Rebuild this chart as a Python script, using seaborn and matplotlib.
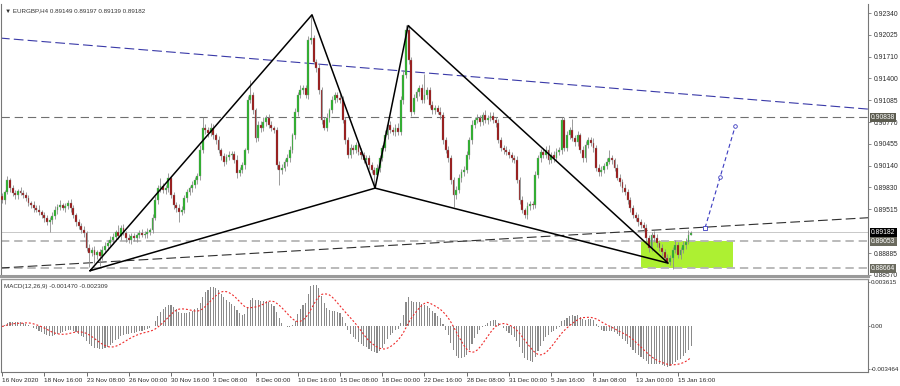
import numpy as np
import pandas as pd
import matplotlib
matplotlib.use("Agg")
import matplotlib.pyplot as plt
import seaborn as sns

# ---------------- data (prices in 1e-4 units) ----------------
first_open = 8970
closes = [
    8965, 8976, 8994, 8982, 8975, 8972, 8978, 8975, 8972, 8968,
    8961, 8958, 8953, 8951, 8948, 8943, 8939, 8933, 8936, 8942,
    8951, 8955, 8958, 8953, 8956, 8961, 8953, 8943, 8933, 8928,
    8922, 8917, 8896, 8889, 8893, 8886, 8890, 8884, 8893, 8899,
    8903, 8907, 8912, 8919, 8913, 8925, 8917, 8910, 8907, 8913,
    8910, 8915, 8917, 8915, 8916, 8919, 8922, 8939, 8965, 8982,
    8985, 8979, 8982, 8997, 8972, 8958, 8953, 8948, 8951, 8968,
    8976, 8982, 8986, 8994, 8999, 9037, 9069, 9066, 9061, 9069,
    9058, 9051, 9037, 9028, 9020, 9027, 9030, 9031, 9022, 9004,
    9008, 9015, 9037, 9109, 9116, 9094, 9054, 9073, 9069, 9077,
    9083, 9073, 9069, 9066, 9015, 9008, 9011, 9020, 9025, 9037,
    9058, 9092, 9116, 9123, 9126, 9116, 9195, 9198, 9164, 9155,
    9123, 9080, 9069, 9083, 9094, 9109, 9116, 9112, 9109, 9080,
    9051, 9030, 9040, 9037, 9044, 9034, 9030, 9022, 9025, 9015,
    9008, 9001, 9011, 9025, 9040, 9058, 9073, 9066, 9063, 9069,
    9063, 9109, 9145, 9210, 9166, 9092, 9112, 9120, 9126, 9109,
    9116, 9123, 9102, 9094, 9097, 9092, 9087, 9051, 9037, 9025,
    8994, 8972, 8979, 8997, 9005, 9008, 9030, 9051, 9073, 9080,
    9083, 9077, 9087, 9080, 9083, 9086, 9080, 9076, 9051, 9040,
    9037, 9034, 9030, 9025, 9022, 8994, 8965, 8951, 8943, 8956,
    8959, 8958, 9001, 9025, 9034, 9030, 9037, 9022, 9030, 9025,
    9034, 9037, 9080, 9040, 9058, 9066, 9054, 9048, 9058, 9037,
    9025, 9044, 9051, 9047, 9040, 9011, 9005, 9008, 9014, 9020,
    9025, 9022, 9011, 8997, 8991, 8982, 8976, 8965, 8953, 8943,
    8939, 8933, 8929, 8925, 8910, 8896, 8915, 8910, 8903, 8896,
    8890, 8881, 8876, 8881, 8893, 8900, 8886, 8893, 8900, 8905,
    8915, 8918,
]
upper_wick = [
    5, 4, 6, 3, 4, 5, 3, 6, 4, 5,
    4, 3, 5, 4, 6, 3, 4, 5, 4, 6,
    5, 4, 7, 3, 5, 4, 6, 4, 3, 5,
    4, 5, 3, 6, 4, 5, 3, 4, 6, 5,
    4, 6, 5, 3, 10, 4, 5, 3, 6, 4,
    5, 3, 4, 6, 4, 5, 3, 6, 5, 4,
    12, 5, 4, 7, 3, 5, 4, 6, 5, 4,
    5, 3, 6, 4, 5, 7, 16, 5, 4, 6,
    5, 4, 6, 3, 5, 4, 6, 5, 4, 7,
    4, 5, 3, 6, 22, 5, 4, 6, 5, 7,
    4, 6, 5, 3, 4, 6, 5, 4, 6, 5,
    4, 6, 5, 7, 4, 5, 6, 33, 5, 4,
    6, 4, 5, 7, 4, 6, 5, 4, 6, 5,
    4, 5, 6, 4, 5, 3, 6, 4, 5, 4,
    5, 4, 6, 5, 4, 7, 5, 6, 4, 5,
    6, 5, 7, 7, 7, 5, 6, 4, 5, 6,
    30, 5, 4, 6, 5, 4, 7, 5, 4, 6,
    5, 4, 6, 5, 4, 6, 5, 4, 7, 5,
    6, 4, 5, 7, 4, 6, 5, 4, 6, 5,
    4, 6, 5, 4, 5, 6, 4, 5, 3, 6,
    5, 4, 6, 5, 4, 6, 5, 7, 4, 5,
    6, 4, 5, 5, 6, 4, 15, 5, 6, 4,
    5, 6, 4, 5, 7, 4, 5, 6, 4, 5,
    12, 5, 4, 6, 5, 4, 6, 5, 4, 5,
    4, 6, 5, 4, 6, 5, 4, 5, 6, 4,
    5, 4, 6, 5, 4, 7, 5, 4, 6, 5,
    6, 2,
]
lower_wick = [
    4, 6, 3, 5, 4, 6, 5, 3, 4, 5,
    5, 4, 6, 3, 5, 4, 6, 4, 14, 5,
    4, 6, 5, 3, 6, 4, 5, 4, 6, 5,
    5, 6, 4, 20, 5, 12, 6, 14, 5, 4,
    6, 4, 5, 6, 4, 5, 3, 6, 4, 5,
    4, 6, 5, 4, 5, 6, 4, 5, 3, 6,
    5, 4, 6, 5, 4, 6, 5, 15, 4, 5,
    6, 4, 5, 4, 6, 5, 4, 6, 5, 4,
    5, 6, 4, 5, 6, 4, 5, 6, 4, 7,
    5, 4, 6, 5, 4, 6, 5, 4, 6, 5,
    6, 4, 5, 4, 6, 22, 5, 4, 6, 5,
    4, 5, 6, 4, 5, 4, 6, 5, 4, 6,
    5, 6, 4, 5, 6, 4, 5, 6, 4, 5,
    6, 4, 5, 6, 4, 5, 6, 4, 5, 6,
    4, 15, 5, 6, 4, 5, 6, 4, 5, 6,
    5, 4, 6, 4, 5, 6, 4, 5, 6, 4,
    5, 6, 4, 5, 6, 4, 5, 6, 4, 5,
    6, 17, 5, 4, 6, 5, 4, 6, 5, 4,
    5, 6, 4, 5, 6, 4, 5, 6, 4, 5,
    6, 4, 5, 6, 4, 5, 6, 5, 4, 6,
    5, 6, 4, 5, 6, 4, 5, 6, 4, 5,
    4, 5, 6, 4, 5, 6, 4, 5, 6, 4,
    5, 6, 4, 5, 6, 4, 5, 6, 4, 5,
    4, 6, 5, 4, 6, 5, 4, 6, 5, 4,
    5, 6, 4, 5, 8, 6, 4, 5, 6, 4,
    5, 6, 3, 5, 15, 5, 5, 6, 4, 5,
    4, 1,
]

tick_bars = [0, 16, 32, 48, 64, 80, 96, 112, 128, 144, 160, 176, 192, 208, 224, 240, 256]
tick_labels = ["16 Nov 2020", "18 Nov 16:00", "23 Nov 08:00", "26 Nov 00:00", "30 Nov 16:00",
               "3 Dec 08:00", "8 Dec 00:00", "10 Dec 16:00", "15 Dec 08:00", "18 Dec 00:00",
               "22 Dec 16:00", "28 Dec 08:00", "31 Dec 00:00", "5 Jan 16:00", "8 Jan 08:00",
               "13 Jan 00:00", "15 Jan 16:00"]

price_ticks = [0.92340, 0.92025, 0.91710, 0.91400, 0.91085, 0.90770, 0.90455,
               0.90140, 0.89830, 0.89515, 0.88885, 0.88570]
box_levels = [0.90838, 0.89182, 0.89053, 0.88664]
box_colors = ["#5c5c50", "#000000", "#6a6a5e", "#6a6a5e"]

macd_ticks = [0.003615, 0.0, -0.003464]
macd_tick_labels = ["0.003615", "0.00", "-0.003464"]

# harmonic pattern pivots X, A, B, C, D (bar index, price)
pattern_bars = [33.3, 117.4, 141.3, 153.8, 252.3]
pattern_prices = [0.88630, 0.92315, 0.89820, 0.92160, 0.88740]

blue_trend_bars = [-0.8, 340.0]
blue_trend_prices = [0.91980, 0.90920]
black_trend_bars = [-0.8, 340.0]
black_trend_prices = [0.88670, 0.89420]

zone_bars = [242.0, 277.0]
zone_prices = [0.88664, 0.89053]

proj_bars = [266.3, 272.0, 277.7]
proj_prices = [0.89250, 0.89980, 0.90710]

title_text = "\u25bc EURGBP,H4 0.89149 0.89197 0.89139 0.89182"
macd_text = "MACD(12,26,9) -0.001470 -0.002309"

# ---------------- derived frame ----------------
c = np.array(closes) / 1e4
o = np.concatenate([[first_open / 1e4], c[:-1]])
h = np.maximum(o, c) + np.array(upper_wick) / 1e4
l = np.minimum(o, c) - np.array(lower_wick) / 1e4
xs = np.arange(len(c))

s = pd.Series(c)
macd = s.ewm(span=12, adjust=False).mean() - s.ewm(span=26, adjust=False).mean()
signal = macd.rolling(9, min_periods=1).mean()

# ---------------- style ----------------
sns.set_theme(style="white")
plt.rcParams["font.family"] = ["Liberation Sans", "DejaVu Sans"]
plt.rcParams["lines.scale_dashes"] = False

W, H = 900, 386
fig = plt.figure(figsize=(9.0, 3.86), dpi=100)
fig.patch.set_facecolor("white")

def fx(px):
    return px / W

def fy(py):
    return 1 - py / H

ax = fig.add_axes([fx(1), fy(276), fx(868) - fx(1), fy(4) - fy(276)])
ax2 = fig.add_axes([fx(1), fy(372), fx(868) - fx(1), fy(279) - fy(372)])

XMIN, XMAX = -0.4, 328.0
FS_Y = 4.85
FS_M = 4.5
FS_X = 4.6
FS_T = 4.5
TXT = "#2a2a2a"

# zone rectangle
ax.fill_between(zone_bars, zone_prices[0], zone_prices[1], color="#adf032", lw=0, zorder=0.5)

# horizontal levels
ax.axhline(0.90838, color="#707070", lw=0.8, dashes=(6, 3.5), zorder=1)
ax.axhline(0.89053, color="#b4b4b4", lw=1.3, dashes=(6, 3.5), zorder=1)
ax.axhline(0.88664, color="#b4b4b4", lw=1.3, dashes=(6, 3.5), zorder=1)
ax.axhline(0.89182, color="#c8c8c8", lw=0.7, zorder=1)

# trendlines
ax.plot(blue_trend_bars, blue_trend_prices, color="#3a3aa8", lw=0.8, dashes=(7, 3), zorder=1.5)
ax.plot(black_trend_bars, black_trend_prices, color="#303030", lw=0.8, dashes=(7, 3), zorder=1.5)

# candles
bull = c >= o
ax.vlines(xs, l, h, color="#8c8c8c", lw=0.6, zorder=2)
body = np.maximum(np.abs(c - o), 0.00003)
ax.bar(xs[bull], body[bull], bottom=np.minimum(o, c)[bull], width=0.7,
       color="#22b422", edgecolor="#909090", lw=0.25, zorder=3)
ax.bar(xs[~bull], body[~bull], bottom=np.minimum(o, c)[~bull], width=0.7,
       color="#9a0c0c", edgecolor="#909090", lw=0.25, zorder=3)

# harmonic pattern (X-A-B-C-D-B-X)
order = [0, 1, 2, 3, 4, 2, 0]
pat = pd.DataFrame({"bar": [pattern_bars[i] for i in order],
                    "price": [pattern_prices[i] for i in order]})
sns.lineplot(data=pat, x="bar", y="price", sort=False, estimator=None,
             color="black", lw=1.1, ax=ax, zorder=4)

# projection
ax.plot(proj_bars, proj_prices, color="#3a3ac0", lw=0.8, dashes=(3, 2), zorder=4)
ax.plot(proj_bars[:1], proj_prices[:1], ls="none", marker="s", ms=2.8, mfc="white",
        mec="#3a3ac0", mew=0.6, zorder=5)
ax.plot(proj_bars[1:], proj_prices[1:], ls="none", marker="o", ms=2.6, mfc="white",
        mec="#3a3ac0", mew=0.6, zorder=5)

ax.set_xlim(XMIN, XMAX)
ax.set_ylim(0.88555, 0.92470)
ax.set_xlabel("")
ax.set_ylabel("")
ax.set_xticks([])
ax.yaxis.tick_right()
ax.set_yticks(price_ticks)
ax.set_yticklabels(["%.5f" % v for v in price_ticks])
ax.tick_params(axis="y", direction="out", length=2.5, width=0.6, color="#777777",
               labelsize=FS_Y, labelcolor=TXT, pad=1.5, right=True, left=False)
ax.spines["top"].set_visible(False)
ax.spines["left"].set_color("#777777")
ax.spines["left"].set_linewidth(0.8)
ax.spines["right"].set_color("#777777")
ax.spines["right"].set_linewidth(0.8)
ax.spines["bottom"].set_color("#9a9a9a")
ax.spines["bottom"].set_linewidth(2.2)

for lev, col in zip(box_levels, box_colors):
    ax.text(1.0035, lev, "%.5f" % lev, transform=ax.get_yaxis_transform(), fontsize=FS_Y,
            color="white", va="center", ha="left", clip_on=False, zorder=10,
            bbox=dict(boxstyle="square,pad=0.18", fc=col, ec="none"))

ax.text(0.005, 0.985, title_text, transform=ax.transAxes, fontsize=FS_T, color="#333333",
        va="top", ha="left")

# ---------------- MACD ----------------
ax2.bar(xs, macd.values, width=0.42, color="#8a8a8a", lw=0, zorder=2)
sns.lineplot(x=xs, y=signal.values, color="#ee2a2a", lw=0.8, ax=ax2,
             linestyle=(0, (1.4, 1.4)), zorder=3)
ax2.set_xlim(XMIN, XMAX)
ax2.set_ylim(-0.003705, 0.00386)
ax2.set_xlabel("")
ax2.set_ylabel("")
ax2.yaxis.tick_right()
ax2.set_yticks(macd_ticks)
ax2.set_yticklabels(macd_tick_labels)
ax2.tick_params(axis="y", direction="out", length=1.5, width=0.6, color="#777777",
                labelsize=FS_M, labelcolor=TXT, pad=0.8, right=True, left=False)
ax2.set_xticks(tick_bars)
ax2.set_xticklabels(tick_labels, ha="left")
ax2.tick_params(axis="x", direction="out", length=3, width=0.6, color="#555555",
                labelsize=FS_X, labelcolor=TXT, pad=1.5, bottom=True)
ax2.spines["top"].set_color("#9a9a9a")
ax2.spines["top"].set_linewidth(1.0)
for sp in ["left", "right", "bottom"]:
    ax2.spines[sp].set_color("#777777")
    ax2.spines[sp].set_linewidth(0.8)
ax2.text(0.004, 0.95, macd_text, transform=ax2.transAxes, fontsize=FS_T, color="#333333",
         va="top", ha="left")

fig.savefig("out.png", dpi=100)
